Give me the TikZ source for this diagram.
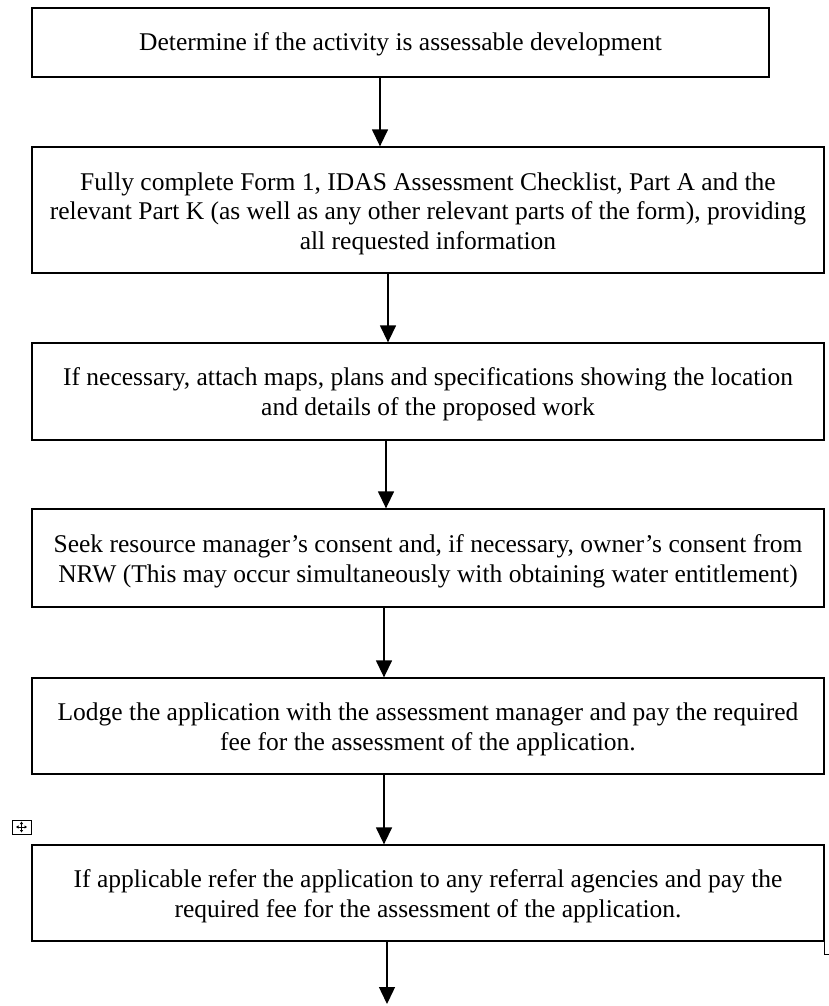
\documentclass[tikz,border=0pt]{standalone}
\usepackage{fontspec}
\setmainfont{Liberation Serif}
\usetikzlibrary{arrows.meta}
\begin{document}
\begin{tikzpicture}[x=1pt,y=-1pt,
  stepbox/.style={draw=black,line width=1.3pt,rectangle,inner sep=0pt},
  steptext/.style={anchor=base,align=center,inner sep=0pt,font=\fontsize{25.5}{29.3}\selectfont},
  arr/.style={line width=1.4pt,-{Triangle[width=16pt,length=17pt]}}]
\useasboundingbox[fill=white] (0,0) rectangle (828,1006);
% boxes
\node[stepbox,minimum width=737pt,minimum height=69pt] (b1) at (400.5,42.5) {};
\node[stepbox,minimum width=792pt,minimum height=126pt] (b2) at (428,210) {};
\node[stepbox,minimum width=792pt,minimum height=97pt] (b3) at (428,391.5) {};
\node[stepbox,minimum width=792pt,minimum height=98pt] (b4) at (428,558) {};
\node[stepbox,minimum width=792pt,minimum height=96pt] (b5) at (428,726) {};
\node[stepbox,minimum width=792pt,minimum height=96pt] (b6) at (428,893) {};
% texts (anchor base = baseline of the last line)
\node[steptext] (t1) at (400.5,51) {Determine if the activity is assessable development};
\node[steptext] (t2) at (428,249) {Fully complete Form 1, IDAS Assessment Checklist, Part A and the\\relevant Part K (as well as any other relevant parts of the form), providing\\all requested information};
\node[steptext] (t3) at (428,415) {If necessary, attach maps, plans and specifications showing the location\\and details of the proposed work};
\node[steptext] (t4) at (428,582) {Seek resource manager’s consent and, if necessary, owner’s consent from\\NRW (This may occur simultaneously with obtaining water entitlement)};
\node[steptext] (t5) at (428,750) {Lodge the application with the assessment manager and pay the required\\fee for the assessment of the application.};
\node[steptext] (t6) at (428,917) {If applicable refer the application to any referral agencies and pay the\\required fee for the assessment of the application.};
% arrow columns
\coordinate (c1) at (380,0);
\coordinate (c2) at (388,0);
\coordinate (c3) at (386,0);
\coordinate (c4) at (384,0);
\coordinate (c5) at (384,0);
\coordinate (c6) at (387,0);
\coordinate (end) at (387,1004);
\draw[arr] (b1.south -| c1) -- (b2.north -| c1);
\draw[arr] (b2.south -| c2) -- (b3.north -| c2);
\draw[arr] (b3.south -| c3) -- (b4.north -| c3);
\draw[arr] (b4.south -| c4) -- (b5.north -| c4);
\draw[arr] (b5.south -| c5) -- (b6.north -| c5);
\draw[arr] (b6.south -| c6) -- (end);
% move handle icon
\draw[line width=0.8pt] (12,820) rectangle (31,834);
\draw[line width=0.7pt,{Triangle[width=3pt,length=2.5pt]}-{Triangle[width=3pt,length=2.5pt]}] (21.5,821.5) -- (21.5,832.5);
\draw[line width=0.7pt,{Triangle[width=3pt,length=2.5pt]}-{Triangle[width=3pt,length=2.5pt]}] (16,827) -- (27,827);
% corner mark
\draw[line width=0.8pt] (b6.south east) -- ++(0,13) -- ++(4,0);
\end{tikzpicture}
\end{document}
